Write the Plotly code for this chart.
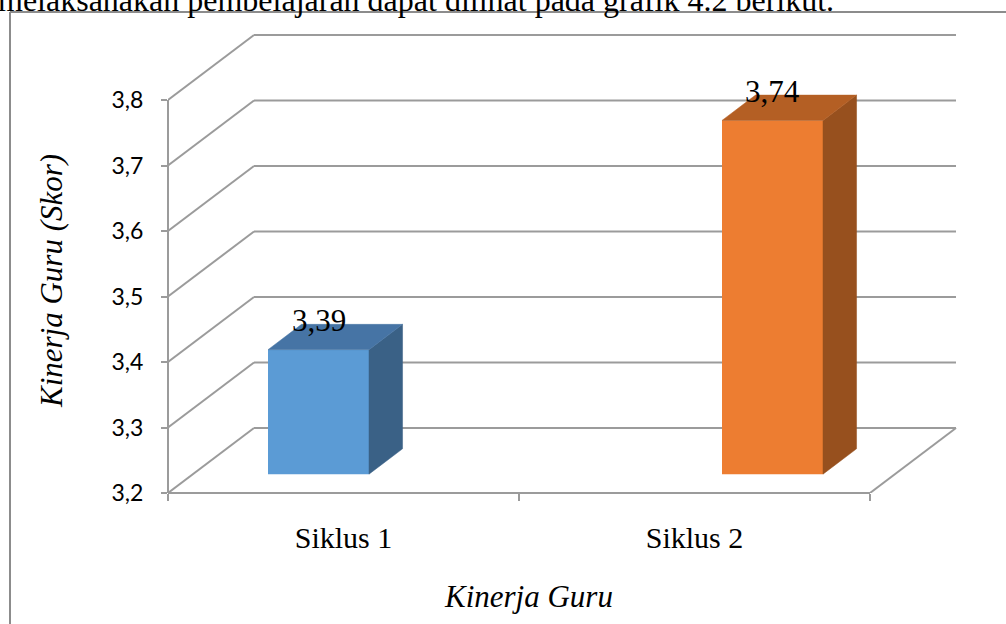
import plotly.graph_objects as go

# ---------------- data ----------------
categories = ["Siklus 1", "Siklus 2"]
values = [3.39, 3.74]
value_labels = ["3,39", "3,74"]
y_ticks = [3.2, 3.3, 3.4, 3.5, 3.6, 3.7, 3.8]
y_tick_labels = ["3,2", "3,3", "3,4", "3,5", "3,6", "3,7", "3,8"]
x_title = "Kinerja Guru"
y_title = "Kinerja Guru (Skor)"
caption = "melaksanakan pembelajaran dapat dilihat pada grafik 4.2 berikut."

# ---------------- styles ----------------
front_colors = ["#5B9BD5", "#ED7D31"]
top_colors = ["#4674A5", "#B45F24"]
side_colors = ["#3A6186", "#97501E"]
GRID = "#9b9b9b"
FRAME = "#8c8c8c"
SERIF = "Liberation Serif"
SANS = "Lato"

# ---------------- geometry (pixels -> data units) ----------------
W, H = 1006, 624
ML, MR, MT, MB = 168, 40, 20, 131
PW, PH = W - ML - MR, H - MT - MB
PX_CAT = 351.0          # pixels per category on the front axis
PX_VAL = 655.0          # pixels per 1.0 of value
Y0 = y_ticks[0]
x_range = [0, PW / PX_CAT]
y_range = [Y0, Y0 + PH / PX_VAL]

DEPTH_X = 86 / PX_CAT
DEPTH_Y = 65 / PX_VAL
BAR_FRONT = 0.29
BAR_DEPTH = 0.39
BAR_W = 101 / PX_CAT
BAR_FIRST = (318.5 - ML) / PX_CAT
BAR_STEP = 454 / PX_CAT
N = len(categories)


def px_x(p):
    return (p - ML) / PW


def px_y(p):
    return (H - MB - p) / PH


fig = go.Figure()

# ---------------- walls / floor grid ----------------
shapes = []
back_x = N + DEPTH_X
for v in y_ticks:
    shapes.append(dict(type="line", xref="x", yref="y", x0=0, y0=v,
                       x1=DEPTH_X, y1=v + DEPTH_Y,
                       line=dict(color=GRID, width=2), layer="below"))
    shapes.append(dict(type="line", xref="x", yref="y", x0=DEPTH_X, y0=v + DEPTH_Y,
                       x1=back_x, y1=v + DEPTH_Y,
                       line=dict(color=GRID, width=2), layer="below"))
# floor right edge
shapes.append(dict(type="line", xref="x", yref="y", x0=N, y0=Y0,
                   x1=N + DEPTH_X, y1=Y0 + DEPTH_Y,
                   line=dict(color=GRID, width=2), layer="below"))
# floor front edge (category axis line)
shapes.append(dict(type="line", xref="x", yref="paper", x0=0, y0=0, x1=N, y1=0,
                   line=dict(color=GRID, width=2), layer="below"))
# value axis line
shapes.append(dict(type="line", xref="paper", yref="y", x0=0, y0=Y0, x1=0, y1=y_ticks[-1],
                   line=dict(color=GRID, width=2), layer="below"))
# outer frame
shapes.append(dict(type="line", xref="paper", yref="paper",
                   x0=px_x(10), y0=px_y(12), x1=px_x(W + 5), y1=px_y(12),
                   line=dict(color=FRAME, width=2)))
shapes.append(dict(type="line", xref="paper", yref="paper",
                   x0=px_x(10), y0=px_y(12), x1=px_x(10), y1=px_y(H + 5),
                   line=dict(color=FRAME, width=2)))

# ---------------- bars ----------------
centers = [BAR_FIRST + i * BAR_STEP for i in range(N)]
base = Y0 + BAR_FRONT * DEPTH_Y
fig.add_trace(go.Bar(
    x=centers, y=[v - Y0 for v in values], base=base, width=BAR_W,
    marker=dict(color=front_colors, line=dict(width=0)),
    hoverinfo="skip", showlegend=False))

bdx = BAR_DEPTH * DEPTH_X
bdy = BAR_DEPTH * DEPTH_Y
annotations = []
for i, v in enumerate(values):
    xc = centers[i]
    xl, xr = xc - BAR_W / 2, xc + BAR_W / 2
    top = v + BAR_FRONT * DEPTH_Y
    fig.add_trace(go.Scatter(
        x=[xr, xr + bdx, xr + bdx, xr, xr],
        y=[base, base + bdy, top + bdy, top, base],
        fill="toself", fillcolor=side_colors[i], mode="lines",
        line=dict(color=side_colors[i], width=0.5),
        hoverinfo="skip", showlegend=False))
    fig.add_trace(go.Scatter(
        x=[xl, xl + bdx, xr + bdx, xr, xl],
        y=[top, top + bdy, top + bdy, top, top],
        fill="toself", fillcolor=top_colors[i], mode="lines",
        line=dict(color=top_colors[i], width=0.5),
        hoverinfo="skip", showlegend=False))
    annotations.append(dict(x=xc, y=top, xref="x", yref="y", text=value_labels[i],
                            showarrow=False, yanchor="middle", yshift=29,
                            font=dict(family=SERIF, size=31, color="#000000")))

# ---------------- titles / caption ----------------
annotations.append(dict(x=px_x(528), y=px_y(596), xref="paper", yref="paper",
                        text="<i>" + x_title + "</i>", showarrow=False,
                        xanchor="center", yanchor="middle",
                        font=dict(family=SERIF, size=31, color="#000000")))
annotations.append(dict(x=px_x(51), y=px_y(281), xref="paper", yref="paper",
                        text="<i>" + y_title + "</i>", showarrow=False, textangle=-90,
                        xanchor="center", yanchor="middle",
                        font=dict(family=SERIF, size=31, color="#000000")))
annotations.append(dict(x=px_x(-4), y=px_y(20), xref="paper", yref="paper",
                        text=caption, showarrow=False,
                        xanchor="left", yanchor="bottom",
                        font=dict(family=SERIF, size=32, color="#000000")))

fig.update_layout(
    width=W, height=H,
    margin=dict(l=ML, r=MR, t=MT, b=MB, autoexpand=False),
    paper_bgcolor="white", plot_bgcolor="white",
    shapes=shapes, annotations=annotations,
    xaxis=dict(range=x_range, showgrid=False, zeroline=False, showline=False,
               tickvals=[i + 0.5 for i in range(N)], ticktext=categories,
               ticks="", ticklabelstandoff=24,
               tickfont=dict(family=SERIF, size=30, color="#000000"),
               minor=dict(tickvals=list(range(N + 1)), ticks="outside", ticklen=7,
                          tickwidth=2, tickcolor=GRID, showgrid=False),
               fixedrange=True),
    yaxis=dict(range=y_range, showgrid=False, zeroline=False, showline=False,
               tickvals=y_ticks, ticktext=y_tick_labels,
               ticks="outside", ticklen=6, tickwidth=2, tickcolor=GRID,
               ticklabelstandoff=13,
               tickfont=dict(family=SANS, size=23, color="#000000"),
               fixedrange=True),
)

fig.write_html("out.html")
